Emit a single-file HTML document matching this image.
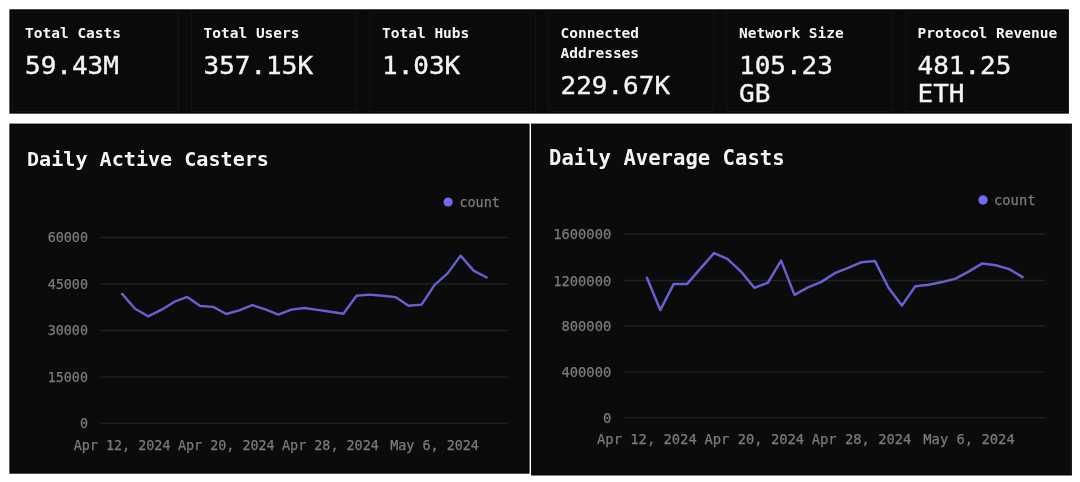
<!DOCTYPE html>
<html lang="en">
<head>
<meta charset="utf-8">
<title>Farcaster Stats</title>
<style>
  html,body{margin:0;padding:0;}
  body{width:1080px;height:482px;background:#ffffff;position:relative;overflow:hidden;font-family:"DejaVu Sans Mono","Liberation Mono",monospace;}
  .stats{position:absolute;left:9.5px;top:9.5px;width:1059.4px;height:104px;overflow:hidden;will-change:transform;}
  .card{position:absolute;top:2px;width:166.5px;height:99.5px;box-sizing:border-box;border:1px solid #131313;}
  .lbl{position:absolute;left:12px;top:11.3px;font-size:14.5px;line-height:19.5px;font-weight:bold;color:#f6f6f6;white-space:nowrap;}
  .val{position:absolute;left:12px;font-size:26px;line-height:29.7px;transform:scaleY(0.93);transform-origin:0 0;color:#f3f3f3;white-space:nowrap;-webkit-text-stroke:0.4px #f3f3f3;}
  svg{position:absolute;left:0;top:0;will-change:transform;}
  svg text{font-family:"DejaVu Sans Mono","Liberation Mono",monospace;}
</style>
</head>
<body>
  <svg width="1080" height="482" viewBox="0 0 1080 482">
    <g class="panels">
      <rect x="9.4" y="9.3" width="1059.5" height="104.35" fill="#020202"/>
      <rect x="10.3" y="10.2" width="1057.7" height="102.2" fill="#0a0a0a"/>
      <rect x="9.4" y="123.6" width="520.2" height="350.1" fill="#020202"/>
      <rect x="10.3" y="124.5" width="518.4" height="348.3" fill="#0b0b0b"/>
      <rect x="531.05" y="123.6" width="540.85" height="351.9" fill="#020202"/>
      <rect x="531.95" y="124.5" width="539.05" height="350.1" fill="#0b0b0b"/>
      <rect x="1069.3" y="124.5" width="1" height="350.1" fill="#151515"/>
    </g>
    <g class="chart-left">
      <line x1="100" y1="237.5" x2="508" y2="237.5" stroke="#1f2222" stroke-width="1.3"/>
      <line x1="100" y1="284" x2="508" y2="284" stroke="#1f2222" stroke-width="1.3"/>
      <line x1="100" y1="330.5" x2="508" y2="330.5" stroke="#1f2222" stroke-width="1.3"/>
      <line x1="100" y1="377" x2="508" y2="377" stroke="#1f2222" stroke-width="1.3"/>
      <line x1="100" y1="423.3" x2="508" y2="423.3" stroke="#1f2222" stroke-width="1.3"/>
      <text x="88" y="237.5" text-anchor="end" dominant-baseline="central" font-size="13.4" fill="#7b7b7b" stroke="#7b7b7b" stroke-width="0.25">60000</text>
      <text x="88" y="284" text-anchor="end" dominant-baseline="central" font-size="13.4" fill="#7b7b7b" stroke="#7b7b7b" stroke-width="0.25">45000</text>
      <text x="88" y="330.5" text-anchor="end" dominant-baseline="central" font-size="13.4" fill="#7b7b7b" stroke="#7b7b7b" stroke-width="0.25">30000</text>
      <text x="88" y="377" text-anchor="end" dominant-baseline="central" font-size="13.4" fill="#7b7b7b" stroke="#7b7b7b" stroke-width="0.25">15000</text>
      <text x="88" y="423.3" text-anchor="end" dominant-baseline="central" font-size="13.4" fill="#7b7b7b" stroke="#7b7b7b" stroke-width="0.25">0</text>
      <text x="122.1" y="445.5" text-anchor="middle" dominant-baseline="central" font-size="13.4" fill="#7b7b7b" stroke="#7b7b7b" stroke-width="0.25">Apr 12, 2024</text>
      <text x="226.3" y="445.5" text-anchor="middle" dominant-baseline="central" font-size="13.4" fill="#7b7b7b" stroke="#7b7b7b" stroke-width="0.25">Apr 20, 2024</text>
      <text x="330.4" y="445.5" text-anchor="middle" dominant-baseline="central" font-size="13.4" fill="#7b7b7b" stroke="#7b7b7b" stroke-width="0.25">Apr 28, 2024</text>
      <text x="434.6" y="445.5" text-anchor="middle" dominant-baseline="central" font-size="13.4" fill="#7b7b7b" stroke="#7b7b7b" stroke-width="0.25">May 6, 2024</text>
      <polyline points="122.1,293.9 135.1,308.7 148.1,316.3 161.2,309.9 174.2,301.9 187.2,296.9 200.2,306.0 213.2,306.9 226.3,314.0 239.3,310.3 252.3,305.1 265.3,309.4 278.3,314.7 291.4,309.6 304.4,308.0 317.4,309.9 330.4,311.7 343.4,313.8 356.5,295.7 369.5,294.6 382.5,295.7 395.5,297.1 408.5,305.8 421.6,304.6 434.6,284.8 447.6,273.4 460.6,255.6 473.6,270.6 486.7,277.5" fill="none" stroke="#6860d2" stroke-width="2.4" stroke-linejoin="round" stroke-linecap="round"/>
      <circle cx="448.1" cy="202" r="4.6" fill="#706cec"/>
      <text x="459.5" y="202" dominant-baseline="central" font-size="13.4" fill="#7b7b7b" stroke="#7b7b7b" stroke-width="0.25">count</text>
      <text x="27" y="159" dominant-baseline="central" font-size="20.1" font-weight="bold" fill="#f4f4f4">Daily Active Casters</text>
    </g>
    <g class="chart-right">
      <line x1="624" y1="234" x2="1045" y2="234" stroke="#1f2222" stroke-width="1.3"/>
      <line x1="624" y1="280.5" x2="1045" y2="280.5" stroke="#1f2222" stroke-width="1.3"/>
      <line x1="624" y1="326" x2="1045" y2="326" stroke="#1f2222" stroke-width="1.3"/>
      <line x1="624" y1="371.8" x2="1045" y2="371.8" stroke="#1f2222" stroke-width="1.3"/>
      <line x1="624" y1="417.7" x2="1045" y2="417.7" stroke="#1f2222" stroke-width="1.3"/>
      <text x="611.3" y="234" text-anchor="end" dominant-baseline="central" font-size="13.8" fill="#7b7b7b" stroke="#7b7b7b" stroke-width="0.25">1600000</text>
      <text x="611.3" y="280.5" text-anchor="end" dominant-baseline="central" font-size="13.8" fill="#7b7b7b" stroke="#7b7b7b" stroke-width="0.25">1200000</text>
      <text x="611.3" y="326" text-anchor="end" dominant-baseline="central" font-size="13.8" fill="#7b7b7b" stroke="#7b7b7b" stroke-width="0.25">800000</text>
      <text x="611.3" y="371.8" text-anchor="end" dominant-baseline="central" font-size="13.8" fill="#7b7b7b" stroke="#7b7b7b" stroke-width="0.25">400000</text>
      <text x="611.3" y="417.7" text-anchor="end" dominant-baseline="central" font-size="13.8" fill="#7b7b7b" stroke="#7b7b7b" stroke-width="0.25">0</text>
      <text x="646.9" y="439" text-anchor="middle" dominant-baseline="central" font-size="13.8" fill="#7b7b7b" stroke="#7b7b7b" stroke-width="0.25">Apr 12, 2024</text>
      <text x="754.3" y="439" text-anchor="middle" dominant-baseline="central" font-size="13.8" fill="#7b7b7b" stroke="#7b7b7b" stroke-width="0.25">Apr 20, 2024</text>
      <text x="861.6" y="439" text-anchor="middle" dominant-baseline="central" font-size="13.8" fill="#7b7b7b" stroke="#7b7b7b" stroke-width="0.25">Apr 28, 2024</text>
      <text x="969.0" y="439" text-anchor="middle" dominant-baseline="central" font-size="13.8" fill="#7b7b7b" stroke="#7b7b7b" stroke-width="0.25">May 6, 2024</text>
      <polyline points="646.9,277.7 660.3,310.1 673.7,283.9 687.2,283.9 700.6,268.4 714.0,253.1 727.4,258.8 740.8,271.3 754.3,287.8 767.7,282.8 781.1,260.6 794.5,294.9 807.9,287.3 821.4,281.9 834.8,273.2 848.2,267.9 861.6,262.2 875.0,261.1 888.5,287.8 901.9,305.6 915.3,286.2 928.7,284.8 942.1,282.1 955.6,278.6 969.0,271.3 982.4,263.4 995.8,265.2 1009.2,269.1 1022.6,277.1" fill="none" stroke="#6860d2" stroke-width="2.5" stroke-linejoin="round" stroke-linecap="round"/>
      <circle cx="983" cy="200" r="4.7" fill="#706cec"/>
      <text x="994" y="200" dominant-baseline="central" font-size="13.8" fill="#7b7b7b" stroke="#7b7b7b" stroke-width="0.25">count</text>
      <text x="549" y="158" dominant-baseline="central" font-size="20.6" font-weight="bold" fill="#f4f4f4">Daily Average Casts</text>
    </g>
  </svg>
  <div class="stats">
    <div class="card" style="left:2.0px"><div class="lbl">Total Casts</div><div class="val" style="top:40.2px">59.43M</div></div>
    <div class="card" style="left:180.5px"><div class="lbl">Total Users</div><div class="val" style="top:40.2px">357.15K</div></div>
    <div class="card" style="left:359.0px"><div class="lbl">Total Hubs</div><div class="val" style="top:40.2px">1.03K</div></div>
    <div class="card" style="left:537.5px"><div class="lbl">Connected<br>Addresses</div><div class="val" style="top:60.1px">229.67K</div></div>
    <div class="card" style="left:716.0px"><div class="lbl">Network Size</div><div class="val" style="top:40.2px">105.23<br>GB</div></div>
    <div class="card" style="left:894.5px"><div class="lbl">Protocol Revenue</div><div class="val" style="top:40.2px">481.25<br>ETH</div></div>
  </div>
</body>
</html>
